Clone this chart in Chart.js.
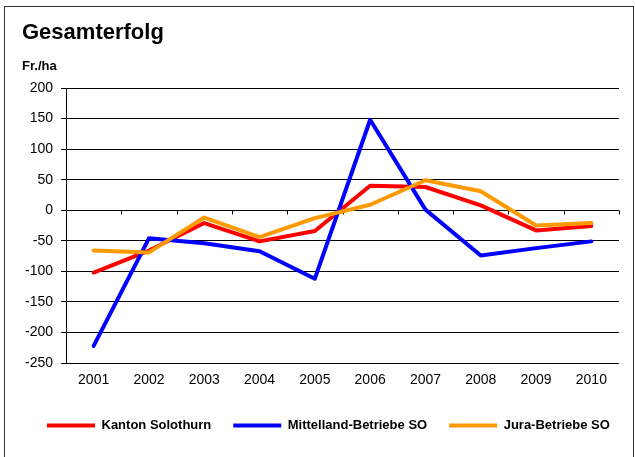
<!DOCTYPE html>
<html>
<head>
<meta charset="utf-8">
<script src="https://cdn.jsdelivr.net/npm/chart.js@4"></script>
<style>
  html, body { margin: 0; padding: 0; background: #fff; }
  canvas { display: block; }
</style>
</head>
<body>
<canvas id="chart" width="635" height="457"></canvas>
<script>
const years = ['2001', '2002', '2003', '2004', '2005', '2006', '2007', '2008', '2009', '2010'];
const seriesNames = ['Kanton Solothurn', 'Mittelland-Betriebe SO', 'Jura-Betriebe SO'];
const kanton = [-102, -66, -21, -51, -34, 40, 38, 8, -33, -26];
const mittelland = [-222, -46, -54, -67, -112, 148, 1, -74, -62, -51];
const jura = [-66, -69, -12, -44, -13, 9, 49, 31, -25, -21];
const yMin = -250, yMax = 200, yStep = 50;

const FONT = "'Liberation Sans', Arial, sans-serif";

// Rahmen um das ganze Diagramm
const framePlugin = {
    id: 'frame',
    beforeDraw(chart) {
        const ctx = chart.ctx;
        ctx.save();
        ctx.strokeStyle = '#333';
        ctx.lineWidth = 1;
        ctx.strokeRect(4.5, 6.5, 629, 460);
        ctx.restore();
    }
};

// kleine Striche auf der Nulllinie zwischen den Jahren
const zeroTicksPlugin = {
    id: 'zeroTicks',
    beforeDatasetsDraw(chart) {
        const { ctx, chartArea: { left, right }, scales: { y } } = chart;
        const y0 = Math.round(y.getPixelForValue(0)) + 0.5;
        const step = (right - left) / years.length;
        ctx.save();
        ctx.strokeStyle = '#000';
        ctx.lineWidth = 1;
        ctx.beginPath();
        for (let i = 0; i <= years.length; i++) {
            const px = Math.round(left + i * step) + 0.5;
            ctx.moveTo(px, y0);
            ctx.lineTo(px, y0 + 4);
        }
        ctx.stroke();
        ctx.restore();
    }
};

// Legende in einer Zeile, links bei ca. x=47
const legendPlace = {
    id: 'legendPlace',
    beforeLayout(chart) {
        const lg = chart.legend;
        if (lg && !lg._oneRow) {
            const fit = lg.fit;
            lg.fit = function () { this.maxWidth = 1000; fit.call(this); };
            lg._oneRow = true;
        }
    },
    afterLayout(chart) {
        const lg = chart.legend;
        const pad = lg.options.labels.padding;
        lg.left = 47 - pad;
        lg.right = 1000;
    }
};

new Chart(document.getElementById('chart'), {
    type: 'line',
    data: {
        labels: years,
        datasets: [
            { label: seriesNames[0], data: kanton, borderColor: '#ff0000', backgroundColor: '#ff0000', order: 3 },
            { label: seriesNames[1], data: mittelland, borderColor: '#0000ff', backgroundColor: '#0000ff', order: 2 },
            { label: seriesNames[2], data: jura, borderColor: '#ff9900', backgroundColor: '#ff9900', order: 1 }
        ]
    },
    options: {
        responsive: false,
        animation: false,
        events: [],
        elements: {
            line: { borderWidth: 4, tension: 0, borderJoinStyle: 'round', borderCapStyle: 'round' },
            point: { radius: 0 }
        },
        layout: { padding: { left: 22, right: 16, top: 10, bottom: 15 } },
        plugins: {
            title: {
                display: true,
                text: 'Gesamterfolg',
                align: 'start',
                color: '#000',
                font: { family: FONT, size: 22, weight: 'bold' },
                padding: { top: 10, bottom: 0 }
            },
            subtitle: {
                display: true,
                text: 'Fr./ha',
                align: 'start',
                color: '#000',
                font: { family: FONT, size: 13, weight: 'bold' },
                padding: { top: 12, bottom: 14 }
            },
            legend: {
                position: 'bottom',
                align: 'start',
                labels: {
                    color: '#000',
                    font: { family: FONT, size: 13, weight: 'bold' },
                    boxWidth: 48,
                    boxHeight: 4,
                    padding: 22,
                    sort: (a, b) => a.datasetIndex - b.datasetIndex,
                    generateLabels(chart) {
                        const items = Chart.defaults.plugins.legend.labels.generateLabels(chart);
                        return items.map(item => ({ ...item, lineWidth: 0 }));
                    }
                }
            },
            tooltip: { enabled: false }
        },
        scales: {
            x: {
                offset: true,
                grid: { display: false, drawTicks: false },
                border: { display: false },
                ticks: { color: '#000', font: { family: FONT, size: 14 }, padding: 9, maxRotation: 0 },
                afterFit(scale) { scale.height = 34; }
            },
            y: {
                min: yMin,
                max: yMax,
                grid: { color: '#000', lineWidth: 1, tickLength: 5 },
                border: { display: true, color: '#000', width: 1 },
                ticks: { stepSize: yStep, color: '#000', font: { family: FONT, size: 14 }, padding: 8 },
                afterFit(scale) { scale.width = 44; }
            }
        }
    },
    plugins: [framePlugin, zeroTicksPlugin, legendPlace]
});
</script>
</body>
</html>
